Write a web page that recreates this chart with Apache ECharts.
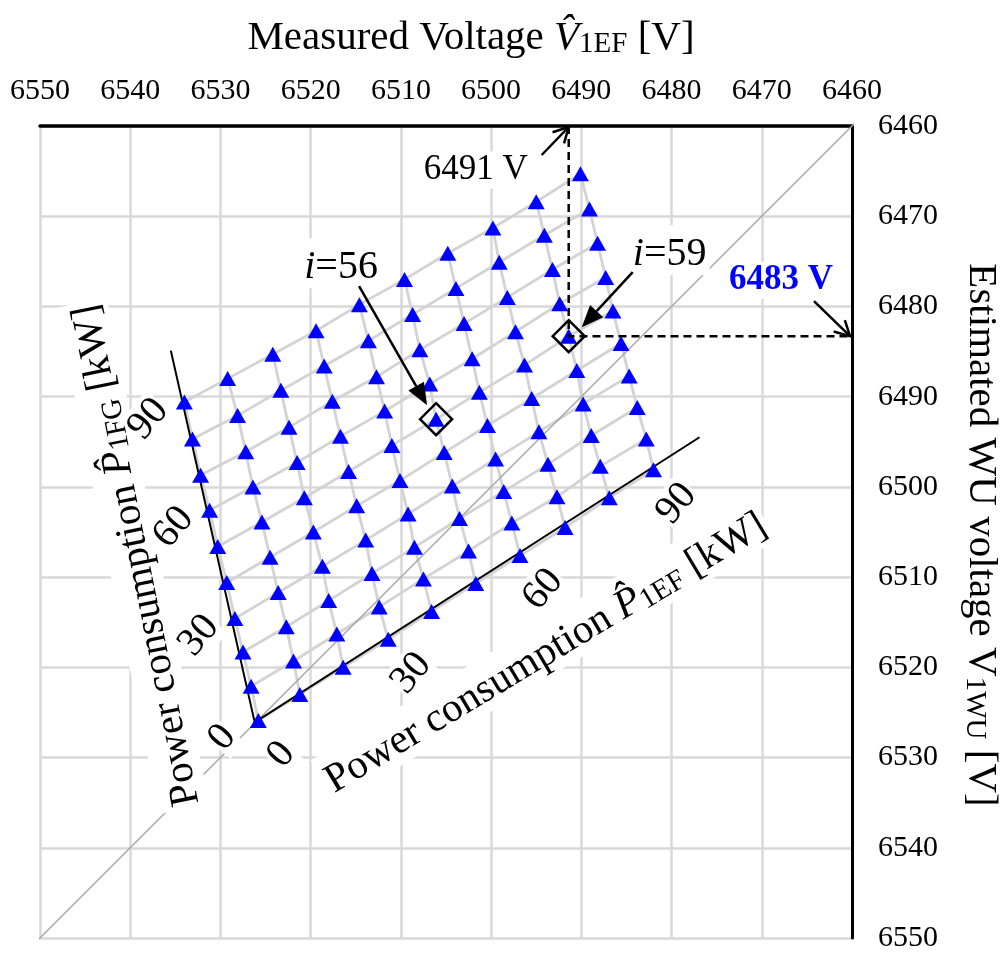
<!DOCTYPE html>
<html>
<head>
<meta charset="utf-8">
<title>Measured vs estimated WU voltage</title>
<script src="https://cdn.jsdelivr.net/npm/echarts@6/dist/echarts.min.js"></script>
<style>
html,body{margin:0;padding:0;background:#fff;}
#chart{width:1007px;height:954px;}
</style>
</head>
<body>
<div id="chart"></div>
<script>
// ---------------- data ----------------
// P1EF / P1FG grid: 0..90 kW in 10 kW steps
const pTickLabels = ['0', '30', '60', '90'];
const pTickIndex = [0, 3, 6, 9];
// measured voltage V1EF [V]; one array per P1EF column (0..90 kW), entries for P1FG = 0..90 kW
const measuredV = [
  [6525.8, 6526.6, 6527.5, 6528.4, 6529.3, 6530.3, 6531.2, 6532.2, 6533.1, 6534.0],
  [6521.2, 6521.9, 6522.7, 6523.6, 6524.5, 6525.4, 6526.4, 6527.2, 6528.1, 6529.2],
  [6516.4, 6517.1, 6518.0, 6518.7, 6519.7, 6520.7, 6521.5, 6522.4, 6523.3, 6524.2],
  [6511.4, 6512.4, 6513.2, 6513.9, 6514.9, 6515.8, 6516.7, 6517.6, 6518.5, 6519.4],
  [6506.6, 6507.5, 6508.5, 6509.2, 6510.1, 6511.0, 6511.8, 6512.7, 6513.6, 6514.6],
  [6501.7, 6502.5, 6503.5, 6504.3, 6505.2, 6506.1, 6506.8, 6507.9, 6508.7, 6509.6],
  [6496.8, 6497.7, 6498.6, 6499.5, 6500.4, 6501.3, 6502.1, 6503.0, 6503.9, 6504.8],
  [6491.8, 6492.7, 6493.7, 6494.7, 6495.5, 6496.3, 6497.3, 6498.2, 6499.1, 6499.8],
  [6486.9, 6487.9, 6488.9, 6489.8, 6490.5, 6491.4, 6492.4, 6493.2, 6494.1, 6495.0],
  [6482.0, 6482.8, 6483.8, 6484.7, 6485.6, 6486.5, 6487.3, 6488.2, 6489.1, 6490.1]
];
// estimated WU voltage V1WU [V]; same layout
const estimatedV = [
  [6525.9, 6522.1, 6518.3, 6514.6, 6510.6, 6506.6, 6502.6, 6498.7, 6494.7, 6490.6],
  [6523.0, 6519.3, 6515.5, 6511.7, 6507.8, 6503.9, 6500.0, 6496.1, 6492.1, 6488.0],
  [6520.0, 6516.3, 6512.6, 6508.8, 6505.0, 6501.2, 6497.3, 6493.4, 6489.3, 6485.3],
  [6516.9, 6513.3, 6509.6, 6505.9, 6502.1, 6498.3, 6494.4, 6490.5, 6486.6, 6482.7],
  [6513.8, 6510.2, 6506.7, 6503.0, 6499.3, 6495.4, 6491.6, 6487.8, 6483.8, 6479.8],
  [6510.7, 6507.1, 6503.5, 6499.9, 6496.2, 6492.5, 6488.6, 6484.8, 6480.9, 6477.0],
  [6507.6, 6504.0, 6500.5, 6496.9, 6493.2, 6489.5, 6485.8, 6481.9, 6478.0, 6474.1],
  [6504.5, 6501.1, 6497.5, 6493.9, 6490.2, 6486.5, 6482.8, 6479.0, 6475.1, 6471.3],
  [6501.2, 6497.7, 6494.3, 6490.8, 6487.1, 6483.3, 6479.7, 6475.9, 6472.1, 6468.4],
  [6498.1, 6494.7, 6491.2, 6487.7, 6484.1, 6480.5, 6476.8, 6473.0, 6469.2, 6465.3]
];
// power axes drawn inside the plot: P1FG end, origin, P1EF end (in voltage coordinates)
const pAxisLine = [[6535.5, 6484.9], [6526.2, 6526.1], [6476.9, 6494.5]];
// reference diagonal V1EF = V1WU
const diagonal = [[6551, 6551], [6459.3, 6459.3]];
// highlighted operating points (index i = 10*jFG + kEF + 1)
const highlighted = [56, 59];
const readVx = '6491 V';
const readVy = '6483 V';

// ---------------- chart ----------------
const FONT = '"Liberation Serif", "Times New Roman", serif';
const chart = echarts.init(document.getElementById('chart'), null, {renderer: 'canvas'});

const N = measuredV.length;
const pt = (k, j) => [measuredV[k][j], estimatedV[k][j]];
const idxToKJ = i => [(i - 1) % 10, Math.floor((i - 1) / 10)];

const meshStyle = {color: '#d3d3d3', width: 2.8};
const series = [];
for (let j = 0; j < N; j++) {
  const d = [];
  for (let k = 0; k < N; k++) d.push(pt(k, j));
  series.push({type: 'line', data: d, symbol: 'none', silent: true, z: 1, lineStyle: meshStyle, animation: false});
}
for (let k = 0; k < N; k++) {
  const d = [];
  for (let j = 0; j < N; j++) d.push(pt(k, j));
  series.push({type: 'line', data: d, symbol: 'none', silent: true, z: 1, lineStyle: meshStyle, animation: false});
}
series.push({type: 'line', data: diagonal, symbol: 'none', silent: true, clip: false, z: 2,
  lineStyle: {color: '#a6a6a6', width: 1.5}, animation: false});
series.push({type: 'line', data: pAxisLine, symbol: 'none', silent: true, z: 3,
  lineStyle: {color: '#000', width: 2}, animation: false});
const allPts = [];
for (let j = 0; j < N; j++) for (let k = 0; k < N; k++) allPts.push(pt(k, j));
series.push({type: 'scatter', data: allPts, symbol: 'triangle', symbolSize: [17, 15], z: 4, silent: true,
  itemStyle: {color: '#0000ff', opacity: 1}, animation: false});
const [k59, j59] = idxToKJ(highlighted[1]);
const p59 = pt(k59, j59);
series.push({type: 'line', data: [[p59[0], 6460], p59, [6460, p59[1]]], symbol: 'none', silent: true, z: 5,
  lineStyle: {color: '#000', width: 2.5, type: [8, 5]}, animation: false});
series.push({type: 'scatter', data: highlighted.map(i => { const [k, j] = idxToKJ(i); return pt(k, j); }),
  symbol: 'diamond', symbolSize: [32, 32], z: 6, silent: true,
  itemStyle: {color: 'rgba(0,0,0,0)', borderColor: '#000', borderWidth: 2.5, opacity: 1}, animation: false});

const option = {
  backgroundColor: '#fff',
  animation: false,
  grid: {left: 40, top: 126, width: 812, height: 812},
  xAxis: {
    type: 'value', position: 'top', inverse: true, min: 6460, max: 6550, interval: 10,
    axisLine: {show: true, onZero: false, lineStyle: {color: '#000', width: 3.5}},
    axisTick: {show: false},
    axisLabel: {fontFamily: FONT, fontSize: 30, color: '#000', margin: 20, formatter: v => String(v)},
    splitLine: {show: true, lineStyle: {color: '#d9d9d9', width: 2.5}}
  },
  yAxis: {
    type: 'value', position: 'right', inverse: true, min: 6460, max: 6550, interval: 10,
    axisLine: {show: true, onZero: false, lineStyle: {color: '#000', width: 3}},
    axisTick: {show: false},
    axisLabel: {fontFamily: FONT, fontSize: 30, color: '#000', margin: 26, formatter: v => String(v)},
    splitLine: {show: true, lineStyle: {color: '#d9d9d9', width: 2.5}}
  },
  series: series
};
chart.setOption(option);

// ---------------- annotations (anchored to data via the axes) ----------------
const toPx = p => chart.convertToPixel({gridIndex: 0}, p);
const deg = d => d * Math.PI / 180;
const g = [];
const txt = (x, y, rot, text, rich, extra) => ({
  type: 'text', x: x, y: y, rotation: rot, z: 100, silent: true,
  style: Object.assign({text: text, fontFamily: FONT, fontSize: 34, fill: '#000', align: 'center',
    verticalAlign: 'middle', backgroundColor: '#fff', padding: [1, 3], rich: rich || undefined}, extra || {})
});
const arrow = (p0, p1, filled) => {
  const dx = p1[0] - p0[0], dy = p1[1] - p0[1], L = Math.hypot(dx, dy), ux = dx / L, uy = dy / L;
  const hl = filled ? 22 : 15, hw = filled ? 9 : 8;
  const bx = p1[0] - ux * hl, by = p1[1] - uy * hl;
  const a = [bx - uy * hw, by + ux * hw], b = [bx + uy * hw, by - ux * hw];
  g.push({type: 'line', z: 101, silent: true,
    shape: {x1: p0[0], y1: p0[1], x2: filled ? bx : p1[0], y2: filled ? by : p1[1]},
    style: {stroke: '#000', lineWidth: 2.5}});
  if (filled) g.push({type: 'polygon', z: 101, silent: true, shape: {points: [p1, a, b]}, style: {fill: '#000'}});
  else g.push({type: 'polyline', z: 101, silent: true, shape: {points: [a, p1, b]},
    style: {stroke: '#000', lineWidth: 2.5, fill: null}});
};

const baseRich = (size) => ({
  r: {fontFamily: FONT, fontSize: size, lineHeight: size * 1.2, verticalAlign: 'bottom'},
  i: {fontFamily: FONT, fontSize: size, fontStyle: 'italic', lineHeight: size * 1.2, verticalAlign: 'bottom'},
  s: {fontFamily: FONT, fontSize: Math.round(size * 0.7), lineHeight: size * 0.55, verticalAlign: 'bottom'}
});

// axis titles
g.push(txt(471, 34, 0, '{r|Measured Voltage }{i|V\u0302}{s|1EF}{r| [V]}', baseRich(41), {backgroundColor: null}));
g.push(txt(985, 535, -Math.PI / 2, '{r|Estimated WU voltage V}{s|1WU}{r| [V]}', baseRich(41), {backgroundColor: null}));
g.push(txt(544, 650, deg(31), '{r|Power consumption }{i|P\u0302}{s|1EF}{r| [kW]}', baseRich(41)));
g.push(txt(133, 556, deg(101.5), '{r|Power consumption }{i|P\u0302}{s|1FG}{r| [kW]}', baseRich(41)));

// power-axis tick labels anchored to the grid points
pTickIndex.forEach((j, n) => {
  const a = toPx(pt(0, j));
  g.push(txt(a[0] - 36, a[1] + 17, deg(50), pTickLabels[n], null, {fontSize: 40, padding: [0, 1]}));
});
pTickIndex.forEach((k, n) => {
  const a = toPx(pt(k, 0));
  g.push(txt(a[0] + 23, a[1] + 34, deg(50), pTickLabels[n], null, {fontSize: 40, padding: [0, 1]}));
});

// i=56
{
  const [k, j] = idxToKJ(highlighted[0]);
  const a = toPx(pt(k, j));
  g.push(txt(a[0] - 95, a[1] - 156, 0, '{i|i}{r|=' + highlighted[0] + '}', baseRich(40)));
  arrow([a[0] - 77, a[1] - 133], [a[0] - 9, a[1] - 14], true);
}
// i=59 with read-out voltages
{
  const a = toPx(p59);
  g.push(txt(a[0] + 101, a[1] - 86, 0, '{i|i}{r|=' + highlighted[1] + '}', baseRich(40)));
  arrow([a[0] + 64, a[1] - 64], [a[0] + 13, a[1] - 9], true);
  const top = toPx([p59[0], 6460]);
  g.push(txt(top[0] - 93, top[1] + 44, 0, readVx, null, {fontSize: 35}));
  arrow([top[0] - 27, top[1] + 29], [top[0], top[1] + 1], false);
  const right = toPx([6460, p59[1]]);
  g.push(txt(right[0] - 71, right[1] - 56, 0, readVy, null, {fontSize: 35, fontWeight: 'bold', fill: '#0000ff'}));
  arrow([right[0] - 38, right[1] - 35], [right[0] - 2, right[1]], false);
}

chart.setOption({graphic: {elements: g}});
</script>
</body>
</html>
